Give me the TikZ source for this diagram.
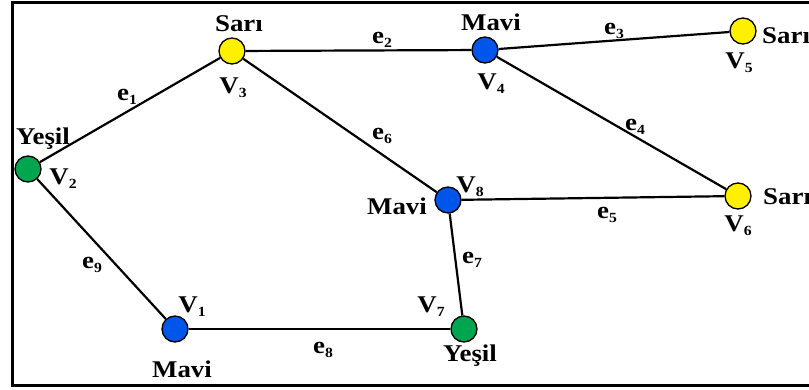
\documentclass[tikz,border=0pt]{standalone}
\usepackage{fontspec}
\setmainfont{Liberation Serif}[FakeStretch=1.12]
\definecolor{vyellow}{RGB}{255,240,0}
\definecolor{vblue}{RGB}{0,85,235}
\definecolor{vgreen}{RGB}{0,165,80}
\newcommand{\sbs}[1]{\raisebox{-4pt}{\fontsize{14}{14}\selectfont #1}}
\tikzset{
  vert/.style={circle, draw=black, line width=1.3pt, minimum size=26pt, inner sep=0pt},
  lbl/.style={font=\fontsize{24}{24}\selectfont\bfseries, inner sep=0pt},
  edgeline/.style={line width=2.2pt, black},
}
\begin{document}
\begin{tikzpicture}[x=1pt,y=-1pt]
\useasboundingbox (0,0) rectangle (809,389);
\clip (0,0) rectangle (809,389);
\fill[white] (0,0) rectangle (809,389);
\draw[line width=3pt] (12,2) rectangle (840,385);
% vertices
\node[vert, fill=vblue]   (v1) at (175,329) {};
\node[vert, fill=vgreen]  (v2) at (28,169) {};
\node[vert, fill=vyellow] (v3) at (232,51) {};
\node[vert, fill=vblue]   (v4) at (485,50) {};
\node[vert, fill=vyellow] (v5) at (743,31) {};
\node[vert, fill=vyellow] (v6) at (738,196) {};
\node[vert, fill=vgreen]  (v7) at (464,329) {};
\node[vert, fill=vblue]   (v8) at (448,200) {};
% edges
\draw[edgeline] (v2) -- (v3);
\draw[edgeline] (v3) -- (v4);
\draw[edgeline] (v4) -- (v5);
\draw[edgeline] (v4) -- (v6);
\draw[edgeline] (v8) -- (v6);
\draw[edgeline] (v3) -- (v8);
\draw[edgeline] (v8) -- (v7);
\draw[edgeline] (v1) -- (v7);
\draw[edgeline] (v2) -- (v1);
% vertex labels
\node[lbl] (n1) at (192,307) {V\sbs{1}};
\node[lbl] (n2) at (63,179) {V\sbs{2}};
\node[lbl] (n3) at (233,88) {V\sbs{3}};
\node[lbl] (n4) at (491,84) {V\sbs{4}};
\node[lbl] (n5) at (739,63) {V\sbs{5}};
\node[lbl] (n6) at (738,226) {V\sbs{6}};
\node[lbl] (n7) at (431,307) {V\sbs{7}};
\node[lbl] (n8) at (470,187) {V\sbs{8}};
% colour labels
\node[lbl] (c1) at (182,369) {Mavi};
\node[lbl] (c2) at (43,139) {Yeşil};
\node[lbl] (c3) at (239,24) {Sarı};
\node[lbl] (c4) at (491,22) {Mavi};
\node[lbl, anchor=west] (c5) at (762,36) {Sarı};
\node[lbl, anchor=west] (c6) at (763,197) {Sarı};
\node[lbl] (c7) at (470,356) {Yeşil};
\node[lbl] (c8) at (397,206) {Mavi};
% edge labels
\node[lbl] (e1) at (127,97) {e\sbs{1}};
\node[lbl] (e2) at (382,40) {e\sbs{2}};
\node[lbl] (e3) at (614,31) {e\sbs{3}};
\node[lbl] (e4) at (635,127) {e\sbs{4}};
\node[lbl] (e5) at (607,215) {e\sbs{5}};
\node[lbl] (e6) at (382,136) {e\sbs{6}};
\node[lbl] (e7) at (472,260) {e\sbs{7}};
\node[lbl] (e8) at (323,350) {e\sbs{8}};
\node[lbl] (e9) at (92,265) {e\sbs{9}};
\end{tikzpicture}
\end{document}
